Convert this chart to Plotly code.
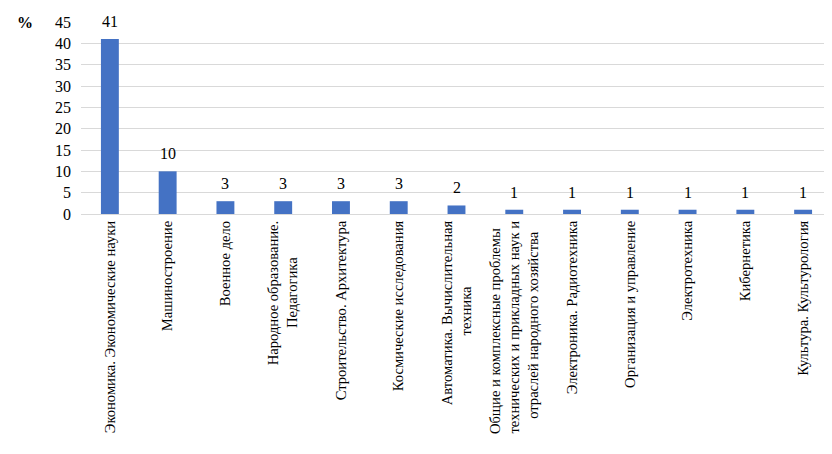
import plotly.graph_objects as go

NB = "\u00a0"

categories = [
    "Экономика. Экономические науки",
    "Машиностроение",
    "Военное дело",
    "Народное образование. Педагогика",
    "Строительство. Архитектура",
    "Космические исследования",
    "Автоматика. Вычислительная техника",
    "Общие и комплексные проблемы технических и прикладных наук и отраслей народного хозяйства",
    "Электроника. Радиотехника",
    "Организация и управление",
    "Электротехника",
    "Кибернетика",
    "Культура. Культурология",
]
tick_labels = [
    "Экономика. Экономические науки",
    "Машиностроение",
    "Военное дело",
    "Народное образование.<br>Педагогика" + NB * 10,
    "Строительство. Архитектура",
    "Космические исследования",
    "Автоматика. Вычислительная<br>техника" + NB * 18,
    "Общие и комплексные проблемы" + NB * 2
    + "<br>технических и прикладных наук и<br>отраслей народного хозяйства" + NB * 3,
    "Электроника. Радиотехника",
    "Организация и управление",
    "Электротехника",
    "Кибернетика",
    "Культура. Культурология",
]
values = [41, 10, 3, 3, 3, 3, 2, 1, 1, 1, 1, 1, 1]
y_ticks = [0, 5, 10, 15, 20, 25, 30, 35, 40, 45]

SERIF = "Times New Roman"

fig = go.Figure(go.Bar(
    x=categories, y=values,
    marker=dict(color="#4472C4", line=dict(width=0)),
))

for c, v in zip(categories, values):
    fig.add_annotation(
        x=c, y=v, text=str(v), showarrow=False,
        yanchor="bottom", yshift=7,
        font=dict(family=SERIF, size=16, color="#000000"),
    )

fig.update_layout(
    width=824, height=446,
    margin=dict(l=73, r=0, t=14, b=240),
    paper_bgcolor="white", plot_bgcolor="white",
    bargap=0.69,
    showlegend=False,
    font=dict(family=SERIF, color="#000000"),
)
fig.update_xaxes(
    tickmode="array", tickvals=categories, ticktext=tick_labels,
    tickangle=-90, tickfont=dict(family=SERIF, size=14.6),
    showgrid=False, showline=True, linecolor="#d9d9d9", linewidth=1,
    ticks="", automargin=False,
)
fig.update_yaxes(
    range=[0, 45], tickvals=y_ticks, ticktext=[str(t) for t in y_ticks],
    tickfont=dict(family=SERIF, size=16),
    showgrid=True, gridcolor="#d9d9d9", gridwidth=1,
    zeroline=False, showline=False, ticks="", ticklen=0,
    ticklabelstandoff=9, automargin=False,
)
fig.add_annotation(
    text="<b>%</b>", xref="paper", yref="paper", x=-0.061, y=1.0,
    xanchor="right", yanchor="middle", showarrow=False,
    font=dict(family=SERIF, size=16, color="#000000"),
)
fig.write_html("out.html")
